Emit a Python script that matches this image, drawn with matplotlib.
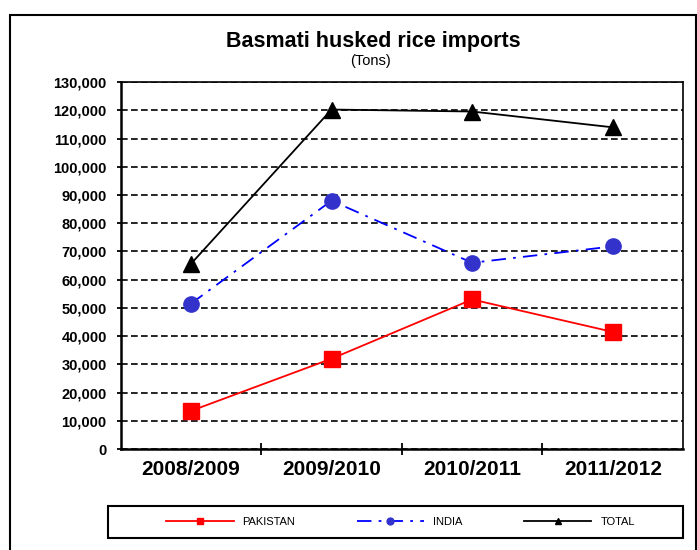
import matplotlib.pyplot as plt
from matplotlib.patches import Rectangle

plt.rcParams['font.family'] = ['Liberation Sans', 'DejaVu Sans']

# Data
seasons = ['2008/2009', '2009/2010', '2010/2011', '2011/2012']
pakistan = [13500, 32000, 53000, 41500]
india = [51500, 88000, 66000, 71800]
total = [65600, 120300, 119600, 114000]

fig = plt.figure(figsize=(6.97, 5.5), dpi=100)
ax = fig.add_axes([0.173, 0.1836, 0.807, 0.667])

x = range(len(seasons))
ax.plot(x, pakistan, color='#FF0000', lw=1.3, marker='s', ms=11,
        mfc='#FF0000', mec='#FF0000', label='PAKISTAN', zorder=4)
ax.plot(x, india, color='#0000FF', lw=1.3, ls=(0, (8, 4, 1.5, 4)),
        marker='o', ms=11, mfc='#3333CC', mec='#3333CC', label='INDIA', zorder=4)
ax.plot(x, total, color='black', lw=1.3, marker='^', ms=11,
        mfc='black', mec='black', label='TOTAL', zorder=4)

ax.set_xlim(-0.5, 3.5)
ax.set_ylim(0, 130000)
ax.set_yticks(range(0, 130001, 10000))
ax.set_yticklabels(['{:,}'.format(v) for v in range(0, 130001, 10000)],
                   fontsize=10.5, fontweight='bold')
ax.set_xticks(x)
ax.set_xticklabels(seasons, fontsize=15, fontweight='bold')
ax.tick_params(axis='x', length=0, pad=8)
ax.set_xticks([0.5, 1.5, 2.5], minor=True)
ax.tick_params(axis='x', which='minor', length=8, direction='inout', width=1.3)
ax.tick_params(axis='y', length=3, width=1.3, direction='out', pad=7)

ax.grid(axis='y', color='black', ls=(0, (4, 2)), lw=1.2)
ax.set_axisbelow(True)
for side in ['left', 'bottom']:
    ax.spines[side].set_linewidth(1.8)
for side in ['top', 'right']:
    ax.spines[side].set_linewidth(1.2)

fig.text(0.535, 0.925, 'Basmati husked rice imports', ha='center', va='center',
         fontsize=15.5, fontweight='bold')
fig.text(0.531, 0.889, '(Tons)', ha='center', va='center', fontsize=10.5)

# legend entries, with a separate box round them
leg = fig.legend(loc='center left', bbox_to_anchor=(0.238, 0.051), ncol=3,
                 fontsize=8, handlelength=6.1, handletextpad=0.8,
                 markerscale=0.45, frameon=False, borderpad=0,
                 borderaxespad=0, columnspacing=5.5)
fig.patches.append(Rectangle((0.155, 0.0218), 0.825, 0.058, transform=fig.transFigure,
                             fill=False, edgecolor='black', lw=1.5))

# outer chart border
fig.patches.append(Rectangle((0.014, -0.05), 0.984, 1.023, transform=fig.transFigure,
                             fill=False, edgecolor='black', lw=1.5))

plt.savefig('out.png', dpi=100)
